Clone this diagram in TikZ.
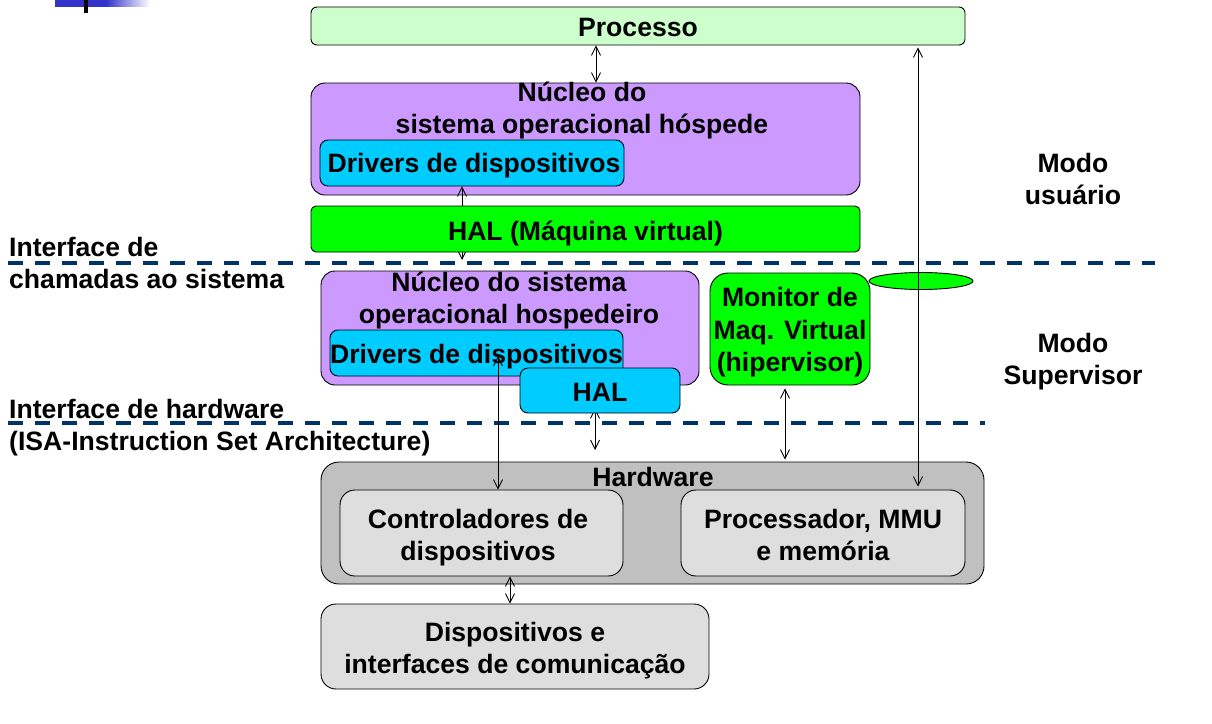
\documentclass[tikz,border=0pt]{standalone}
\usepackage{fontspec}
\setmainfont{Liberation Sans}
\usetikzlibrary{arrows.meta}
\pgfdeclarelayer{bg}
\pgfsetlayers{bg,main}
\definecolor{lgreen}{HTML}{CCFFCC}
\definecolor{purp}{HTML}{CC99FF}
\definecolor{cyanb}{HTML}{00CCFF}
\definecolor{vgreen}{HTML}{00FF00}
\definecolor{hwgray}{HTML}{C0C0C0}
\definecolor{ltgray}{HTML}{DEDEDE}
\definecolor{navy}{HTML}{003366}
\definecolor{hdrblue}{HTML}{3333CC}
\tikzset{
  box/.style={draw=black, line width=0.9pt, inner sep=0pt},
  lbl/.style={inner sep=0pt, align=center, font=\fontsize{26.6}{32}\selectfont\bfseries},
  lbll/.style={inner sep=0pt, align=left, anchor=west, font=\fontsize{26.6}{32.5}\selectfont\bfseries},
  conn/.style={draw=black, line width=0.9pt, {Straight Barb[length=9pt,width=9pt]}-{Straight Barb[length=9pt,width=9pt]}},
  iface/.style={draw=navy, line width=3.2pt, dash pattern=on 15pt off 12pt},
}
\begin{document}
\begin{tikzpicture}[x=1pt,y=-1pt]
\useasboundingbox (0,0) rectangle (1212,723);
% header decoration
\fill[hdrblue] (55,0) rectangle (106,6.5);
\shade[left color=hdrblue, right color=white] (106,0) rectangle (150,6.5);
\draw[line width=3.3pt] (86,0) -- (86,12.5);

% free ends
\coordinate (gend) at (462,260);
\coordinate (hend) at (595,450);
\coordinate (dstart) at (498,356);

% guest side
\node[box, fill=lgreen, rounded corners=6pt, minimum width=654pt, minimum height=38pt] (proc) at (638,26) {};
\node[lbl] (proct) at (638,27) {Processo};
\node[box, fill=purp, rounded corners=14pt, minimum width=549pt, minimum height=112pt] (guest) at (585.5,139) {};
\node[lbl] (guestlbl) at (582,110.5) {Núcleo do\\sistema operacional hóspede};
\node[box, fill=cyanb, rounded corners=8pt, minimum width=304pt, minimum height=46pt] (gdrv) at (472,163) {};
\node[lbl] (gdrvt) at (474,166) {Drivers de dispositivos};
\draw[conn] ([xshift=-10pt]gdrv.south) -- (gend);
\node[box, fill=vgreen, rounded corners=5pt, minimum width=549pt, minimum height=46pt] (ghal) at (585.5,229) {};
\node[lbl] (ghalt) at (585.5,233.5) {HAL (Máquina virtual)};

% host side
\node[box, fill=purp, rounded corners=14pt, minimum width=378pt, minimum height=114pt] (host) at (510,328) {};
\node[lbl] (hostlbl) at (509,300.5) {Núcleo do sistema\\operacional hospedeiro};
\node[box, fill=cyanb, rounded corners=8pt, minimum width=293pt, minimum height=46pt] (hdrv) at (476.5,353) {};
\node[lbl] (hdrvt) at (476.5,357) {Drivers de dispositivos};
\node[box, fill=cyanb, rounded corners=8pt, minimum width=160pt, minimum height=45pt] (hhal) at (600,390.5) {};
\node[lbl] (hhalt) at (600,392.5) {HAL};

\filldraw[fill=vgreen, draw=black, line width=0.9pt] (921,281) ellipse [x radius=52, y radius=8.5];
\node[box, fill=vgreen, rounded corners=18pt, minimum width=160pt, minimum height=112pt] (vmm) at (790,329) {};
\node[lbl, font=\fontsize{26.6}{32.5}\selectfont\bfseries] (vmmt) at (790,332.5) {Monitor de\\Maq. Virtual\\(hipervisor)};

% hardware
\node[box, fill=hwgray, rounded corners=18pt, minimum width=663pt, minimum height=122pt] (hw) at (652.5,523) {};
\node[lbl] (hwlbl) at (653,477) {Hardware};
\node[box, fill=ltgray, rounded corners=15pt, minimum width=283pt, minimum height=86pt] (ctrl) at (481.5,533) {};
\node[lbl] (ctrlt) at (478,537.5) {Controladores de\\dispositivos};
\node[box, fill=ltgray, rounded corners=15pt, minimum width=284pt, minimum height=86pt] (cpu) at (823,533) {};
\node[lbl] (cput) at (823,535) {Processador, MMU\\e memória};
\node[box, fill=ltgray, rounded corners=15pt, minimum width=388pt, minimum height=85pt] (dev) at (515,646.5) {};
\node[lbl] (devt) at (515,650.5) {Dispositivos e\\interfaces de comunicação};

% side labels
\node[lbll] (ifsys) at (9,263) {Interface de\\chamadas ao sistema};
\node[lbll] (ifhw) at (9,427.5) {Interface de hardware\\(ISA-Instruction Set Architecture)};
\node[lbl] (muser) at (1073,179) {Modo\\usuário};
\node[lbl] (msup) at (1073,361.5) {Modo\\Supervisor};

% background: interface lines and hidden connector
\begin{pgfonlayer}{bg}
\draw[iface] (8,263) -- (1155,263);
\draw[iface] (8,423) -- (985,423);
\draw[conn] ([xshift=-5pt,yshift=5pt]hhal.south) -- (hend);
\end{pgfonlayer}

% connectors
\draw[conn] ([xshift=-42pt]proc.south) -- ([xshift=10.5pt]guest.north);
\draw[conn] (dstart) -- ([xshift=16.5pt]ctrl.north);
\draw[conn, shorten <=3pt, shorten >=2pt] ([xshift=-5pt]vmm.south) -- ([xshift=132.5pt]hw.north);
\draw[conn, shorten <=2pt, shorten >=3pt] ([xshift=280pt]proc.south) -- ([xshift=95pt]cpu.north);
\draw[conn] ([xshift=28.5pt]ctrl.south) -- ([xshift=-5pt]dev.north);
\end{tikzpicture}
\end{document}
